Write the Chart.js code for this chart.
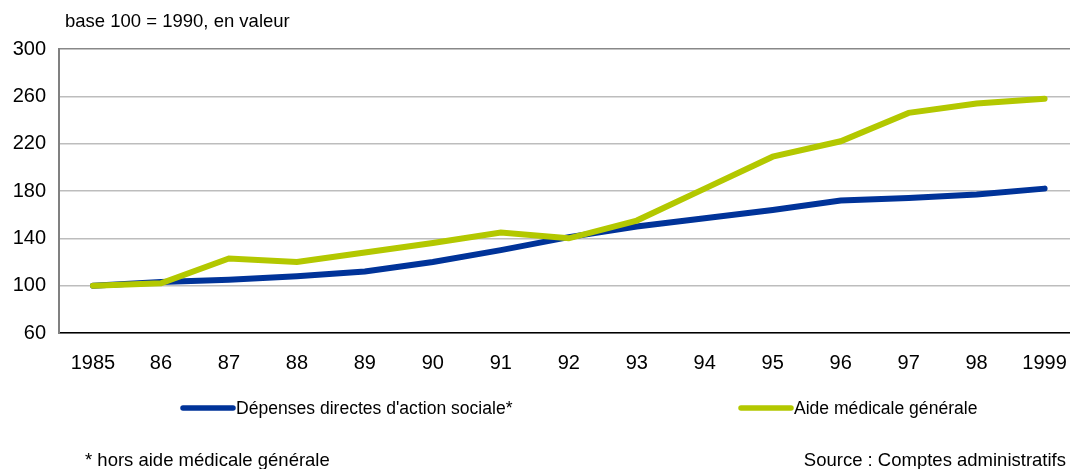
<!DOCTYPE html>
<html lang="fr">
<head>
<meta charset="utf-8">
<script src="https://cdn.jsdelivr.net/npm/chart.js@4/dist/chart.umd.min.js"></script>
<style>
  html, body { margin: 0; padding: 0; background: #fff; overflow: hidden; }
  #wrap { position: relative; width: 1085px; height: 469px; }
</style>
</head>
<body>
<div id="wrap"><canvas id="c" width="1085" height="469"></canvas></div>
<script>
// Années (libellés de l'axe horizontal)
const years = ['1985', '86', '87', '88', '89', '90', '91', '92', '93', '94', '95', '96', '97', '98', '1999'];

// Indices base 100 = 1990
const depensesDirectes = [100, 103, 105, 108, 112, 120, 130, 141, 150, 157, 164, 172, 174, 177, 182];
const aideMedicale     = [100, 102, 123, 120, 128, 136, 145, 140, 155, 182, 209, 222, 246, 254, 258];

const yTicks = [60, 100, 140, 180, 220, 260, 300];

const seriesNames = ["Dépenses directes d'action sociale*", 'Aide médicale générale'];
const seriesColors = ['#003399', '#b3c800'];

const FONT = '"Liberation Sans", Arial, sans-serif';

// Textes annexes : unité, légende, note et source
const annotations = {
  id: 'annotations',
  afterDraw(chart) {
    const ctx = chart.ctx;
    ctx.save();
    ctx.fillStyle = '#000';
    ctx.textBaseline = 'middle';
    ctx.font = '18.5px ' + FONT;
    ctx.textAlign = 'left';
    ctx.fillText('base 100 = 1990, en valeur', 65, 22);

    // Légende
    const items = [
      { x: 183, name: seriesNames[0], color: seriesColors[0] },
      { x: 741, name: seriesNames[1], color: seriesColors[1] }
    ];
    items.forEach(it => {
      ctx.strokeStyle = it.color;
      ctx.lineWidth = 5.5;
      ctx.lineCap = 'round';
      ctx.beginPath();
      ctx.moveTo(it.x, 408);
      ctx.lineTo(it.x + 50, 408);
      ctx.stroke();
      ctx.font = '18px ' + FONT;
      ctx.save();
      ctx.translate(it.x + 53, 409);
      ctx.scale(0.975, 1);
      ctx.fillText(it.name, 0, 0);
      ctx.restore();
    });

    ctx.font = '18.5px ' + FONT;
    ctx.fillText('* hors aide médicale générale', 85, 461);
    ctx.textAlign = 'right';
    ctx.fillText('Source : Comptes administratifs', 1066, 461);
    ctx.restore();
  }
};

new Chart(document.getElementById('c'), {
  type: 'line',
  data: {
    labels: years,
    datasets: [
      {
        label: seriesNames[0],
        data: depensesDirectes,
        borderColor: seriesColors[0],
        borderWidth: 6,
        pointRadius: 0,
        tension: 0,
        order: 1,
        borderCapStyle: 'round',
        borderJoinStyle: 'miter'
      },
      {
        label: seriesNames[1],
        data: aideMedicale,
        borderColor: seriesColors[1],
        borderWidth: 6,
        pointRadius: 0,
        tension: 0,
        order: 0,
        borderCapStyle: 'round',
        borderJoinStyle: 'miter'
      }
    ]
  },
  options: {
    responsive: false,
    animation: false,
    layout: { padding: { top: 49, left: 0, right: 5, bottom: 86 } },
    plugins: {
      legend: { display: false },
      tooltip: { enabled: false }
    },
    scales: {
      x: {
        offset: true,
        grid: { display: false, drawTicks: false },
        border: { display: true, color: '#000', width: 1.5 },
        ticks: {
          color: '#000',
          font: { family: FONT, size: 20 },
          padding: 18,
          maxRotation: 0,
          autoSkip: false
        },
        afterFit(scale) { scale.height = 50; }
      },
      y: {
        min: 60,
        max: 300,
        afterBuildTicks(scale) { scale.ticks = yTicks.map(v => ({ value: v })); },
        grid: {
          drawTicks: false,
          lineWidth: 1.5,
          color(ctx) { return ctx.tick && ctx.tick.value === 300 ? '#888888' : '#bdbdbd'; }
        },
        border: { display: true, color: '#808080', width: 2 },
        ticks: {
          color: '#000',
          font: { family: FONT, size: 20 },
          padding: 13
        },
        afterFit(scale) { scale.width = 59; }
      }
    }
  },
  plugins: [annotations]
});
</script>
</body>
</html>
